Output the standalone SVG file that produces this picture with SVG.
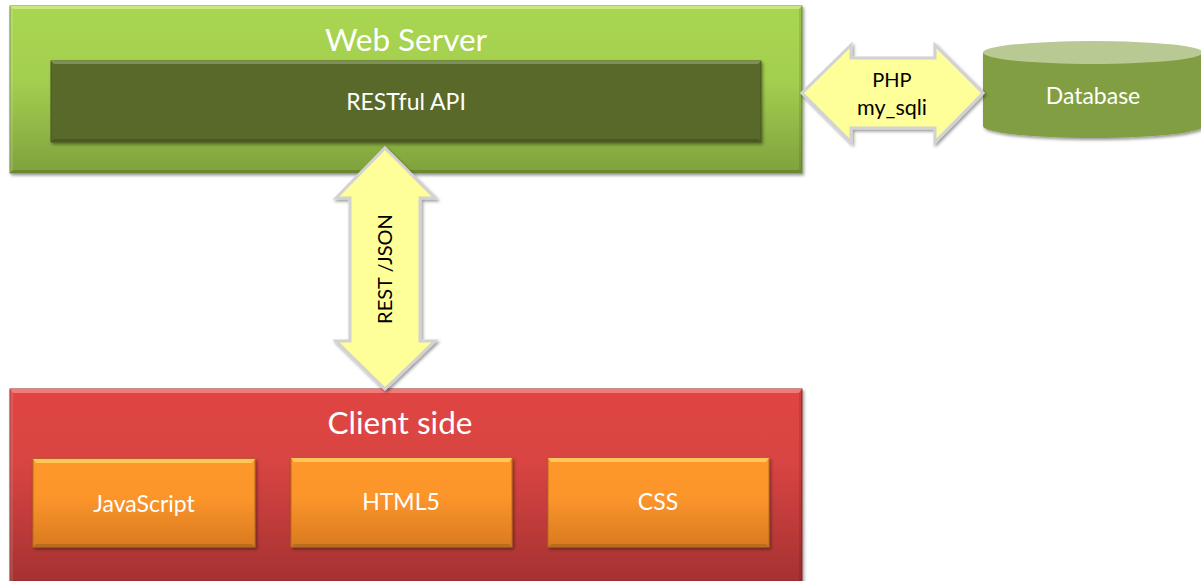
<svg xmlns="http://www.w3.org/2000/svg" width="1201" height="581" viewBox="0 0 1201 581">
<style>
text{font-family:Lato,"Open Sans","Liberation Sans",sans-serif;text-anchor:middle}
.w{fill:#fff}.k{fill:#000;font-size:20px}
.lg{font-size:31.5px}.md{font-size:23px}
.arrow{fill:#ffff99;stroke:#d2d2d2;stroke-width:3;stroke-linejoin:miter;filter:url(#sh)}
</style>
<defs>
<linearGradient id="g" x1="0" y1="0" x2="0" y2="1"><stop offset="0" stop-color="#a9d651"/><stop offset=".45" stop-color="#a3cf50"/><stop offset="1" stop-color="#80a13d"/></linearGradient>
<linearGradient id="r" x1="0" y1="0" x2="0" y2="1"><stop offset="0" stop-color="#e04543"/><stop offset=".4" stop-color="#d74442"/><stop offset="1" stop-color="#a53231"/></linearGradient>
<linearGradient id="o" x1="0" y1="0" x2="0" y2="1"><stop offset="0" stop-color="#ff982c"/><stop offset=".45" stop-color="#fb952c"/><stop offset="1" stop-color="#d97a20"/></linearGradient>
<filter id="sh" x="-10%" y="-10%" width="125%" height="125%"><feDropShadow dx="1.5" dy="2" stdDeviation="1.5" flood-color="#000" flood-opacity=".4"/></filter>
</defs>
<g id="web-server">
<rect x="10" y="6" width="792" height="167" fill="url(#g)" stroke="#6f8d35" stroke-width="1" filter="url(#sh)"/>
<polygon points="10,6 802,6 799,9 13,9" fill="#c9e87c"/>
<polygon points="10,6 13,9 13,170 10,173" fill="#fff" opacity=".12"/>
<polygon points="802,6 799,9 799,170 802,173" fill="#000" opacity=".1"/>
<polygon points="10,173 13,170 799,170 802,173" fill="#6a8732"/>
<text class="w lg" x="406" y="51">Web Server</text>
</g>
<g id="restful-api">
<rect x="51" y="61" width="710" height="81" fill="#59692c" stroke="#465323" stroke-width="1" filter="url(#sh)"/>
<polygon points="51,61 761,61 758,64 54,64" fill="#7f8e60"/>
<polygon points="51,142 54,139 758,139 761,142" fill="#4a5822"/>
<text class="w md" x="406" y="110">RESTful API</text>
</g>
<g id="client-side">
<rect x="10" y="389" width="792" height="192" fill="url(#r)" stroke="#8f2c2b" stroke-width="1" filter="url(#sh)"/>
<polygon points="10,389 802,389 799,393 13,393" fill="#f47a78"/>
<polygon points="10,389 13,393 13,581 10,581" fill="#fff" opacity=".1"/>
<polygon points="802,389 799,393 799,581 802,581" fill="#000" opacity=".1"/>
<text class="w lg" x="400" y="434">Client side</text>
</g>
<g id="javascript">
<rect x="33" y="459" width="222" height="88" fill="url(#o)" stroke="#b56d1c" stroke-width="1" filter="url(#sh)"/>
<polygon points="33,459 255,459 252,463 36,463" fill="#ffc65a"/>
<polygon points="33,547 36,544 252,544 255,547" fill="#b96c1b"/>
<text class="w md" x="144" y="512">JavaScript</text>
</g>
<g id="html5">
<rect x="291" y="458" width="221" height="89" fill="url(#o)" stroke="#b56d1c" stroke-width="1" filter="url(#sh)"/>
<polygon points="291,458 512,458 509,462 294,462" fill="#ffc65a"/>
<polygon points="291,547 294,544 509,544 512,547" fill="#b96c1b"/>
<text class="w md" x="401" y="510">HTML5</text>
</g>
<g id="css">
<rect x="548" y="458" width="221" height="89" fill="url(#o)" stroke="#b56d1c" stroke-width="1" filter="url(#sh)"/>
<polygon points="548,458 769,458 766,462 551,462" fill="#ffc65a"/>
<polygon points="548,547 551,544 766,544 769,547" fill="#b96c1b"/>
<text class="w md" x="658" y="510">CSS</text>
</g>
<g id="database">
<path d="M983 53V126A110 12 0 0 0 1203 126V53Z" fill="#819e42" filter="url(#sh)"/>
<ellipse cx="1093" cy="52.500" rx="110" ry="11.500" fill="#b9c994"/>
<text class="w md" x="1093" y="104">Database</text>
</g>
<g id="connectors">
<g id="php-connector">
<polygon class="arrow" points="802,93 851,45 851,58 935,58 935,45 983,93 935,142 935,128 851,128 851,142"/>
<text class="k" x="892" y="87">PHP</text>
<text class="k" x="892" y="115" style="font-size:21.5px">my_sqli</text>
</g>
<g id="rest-connector">
<polygon class="arrow" points="385,148 435,198 420,198 420,341 435,341 385,389 336,341 350,341 350,198 336,198"/>
<text class="k" transform="translate(392 269) rotate(-90)">REST /JSON</text>
</g>
</g>
</svg>
